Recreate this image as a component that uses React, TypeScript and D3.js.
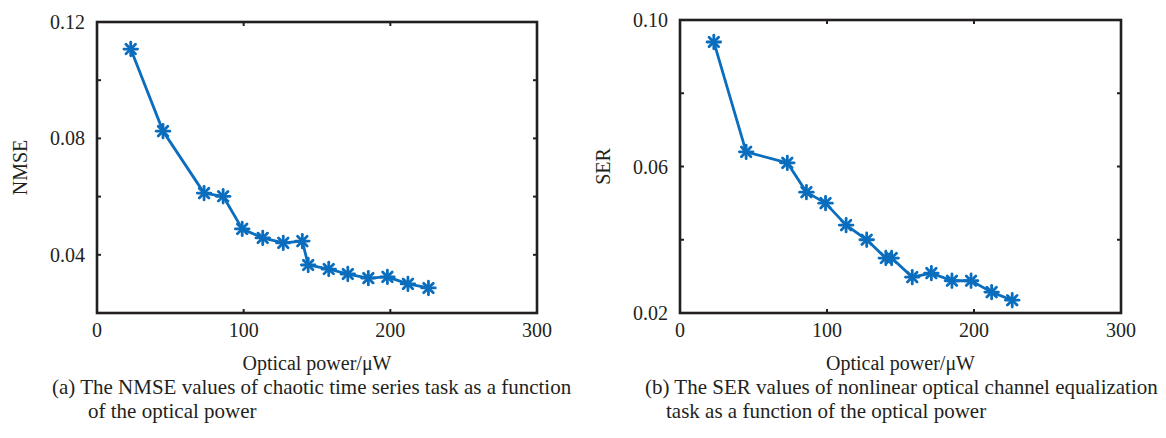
import React from "react";
import * as d3 from "d3";

// Optical power sweep (µW) shared by both panels
const opticalPower = [23, 45, 73, 86, 99, 113, 127, 140, 144, 158, 171, 185, 198, 212, 226];
// (a) NMSE of the chaotic time series prediction task
const nmseValues = [0.1107, 0.0825, 0.0612, 0.0601, 0.0489, 0.0458, 0.0441, 0.0447, 0.0365, 0.0351, 0.0334, 0.032, 0.0324, 0.03, 0.0286];
// (b) SER of the nonlinear optical channel equalization task
const serValues = [0.094, 0.064, 0.061, 0.053, 0.05, 0.044, 0.04, 0.035, 0.035, 0.0298, 0.0309, 0.0288, 0.0288, 0.0257, 0.0235];

const xTicks = [0, 100, 200, 300];
const nmseTicks = [0.02, 0.04, 0.06, 0.08, 0.1, 0.12];
const nmseLabels = ["0.04", "0.08", "0.12"];
const serTicks = [0.02, 0.04, 0.06, 0.08, 0.1];
const serLabels = ["0.02", "0.06", "0.10"];

const captionA = ["(a) The NMSE values of chaotic time series task as a function", "of the optical power"];
const captionB = ["(b) The SER values of nonlinear optical channel equalization", "task as a function of the optical power"];

const BLUE = "#0a6dbd";
const INK = "#231f20";
const FONT = "'Liberation Serif', 'Times New Roman', serif";

type PanelProps = {
  left: number;
  right: number;
  top: number;
  bottom: number;
  yDomain: [number, number];
  yTicks: number[];
  yLabels: string[];
  yTitle: string;
  values: number[];
  caption: string[];
  captionX: [number, number];
};

function Star({ x, y }: { x: number; y: number }) {
  const r = 6.8;
  const d = r * Math.SQRT1_2;
  return (
    <g stroke={BLUE} strokeWidth={2.8} strokeLinecap="round">
      <line x1={x - r} y1={y} x2={x + r} y2={y} />
      <line x1={x} y1={y - r} x2={x} y2={y + r} />
      <line x1={x - d} y1={y - d} x2={x + d} y2={y + d} />
      <line x1={x - d} y1={y + d} x2={x + d} y2={y - d} />
    </g>
  );
}

function Panel(p: PanelProps) {
  const x = d3.scaleLinear().domain([0, 300]).range([p.left, p.right]);
  const y = d3.scaleLinear().domain(p.yDomain).range([p.bottom, p.top]);
  const pts = opticalPower.map((v, i) => [x(v), y(p.values[i])] as [number, number]);
  const path = d3.line()(pts) || "";
  const tl = 4;
  const cx = (p.left + p.right) / 2;
  return (
    <g fontFamily={FONT} fill={INK}>
      {/* inward ticks on all four sides */}
      <g stroke={INK} strokeWidth={2}>
        {xTicks.slice(1, -1).map((t) => (
          <g key={"x" + t}>
            <line x1={x(t)} x2={x(t)} y1={p.bottom} y2={p.bottom - tl} />
            <line x1={x(t)} x2={x(t)} y1={p.top} y2={p.top + tl} />
          </g>
        ))}
        {p.yTicks.slice(1, -1).map((t) => (
          <g key={"y" + t}>
            <line x1={p.left} x2={p.left + tl} y1={y(t)} y2={y(t)} />
            <line x1={p.right} x2={p.right - tl} y1={y(t)} y2={y(t)} />
          </g>
        ))}
      </g>
      <rect x={p.left} y={p.top} width={p.right - p.left} height={p.bottom - p.top} fill="none" stroke={INK} strokeWidth={2.6} />
      <path d={path} fill="none" stroke={BLUE} strokeWidth={2.8} strokeLinejoin="round" />
      {pts.map(([px, py], i) => (
        <Star key={i} x={px} y={py} />
      ))}
      {xTicks.map((t) => (
        <text key={"xl" + t} x={x(t)} y={p.bottom + 24} fontSize={20} textAnchor="middle">
          {t}
        </text>
      ))}
      {p.yLabels.map((s) => (
        <text key={"yl" + s} x={p.left - 12} y={y(+s) + 7} fontSize={20} textAnchor="end">
          {s}
        </text>
      ))}
      <text x={cx} y={370} fontSize={20} textAnchor="middle">
        Optical power/μW
      </text>
      <text transform={`translate(${p.left - 70},${(p.top + p.bottom) / 2}) rotate(-90)`} fontSize={20} textAnchor="middle">
        {p.yTitle}
      </text>
      <text x={p.captionX[0]} y={394} fontSize={21}>
        {p.caption[0]}
      </text>
      <text x={p.captionX[1]} y={418} fontSize={21}>
        {p.caption[1]}
      </text>
    </g>
  );
}

export default function App() {
  return (
    <svg width={1166} height={438} style={{ position: "absolute", left: 0, top: 0, background: "#fff" }}>
      <rect width={1166} height={438} fill="#fff" />
      <Panel
        left={97}
        right={537}
        top={22}
        bottom={313}
        yDomain={[0.02, 0.12]}
        yTicks={nmseTicks}
        yLabels={nmseLabels}
        yTitle="NMSE"
        values={nmseValues}
        caption={captionA}
        captionX={[52, 88]}
      />
      <Panel
        left={680}
        right={1121}
        top={20}
        bottom={313}
        yDomain={[0.02, 0.1]}
        yTicks={serTicks}
        yLabels={serLabels}
        yTitle="SER"
        values={serValues}
        caption={captionB}
        captionX={[645, 666]}
      />
    </svg>
  );
}
